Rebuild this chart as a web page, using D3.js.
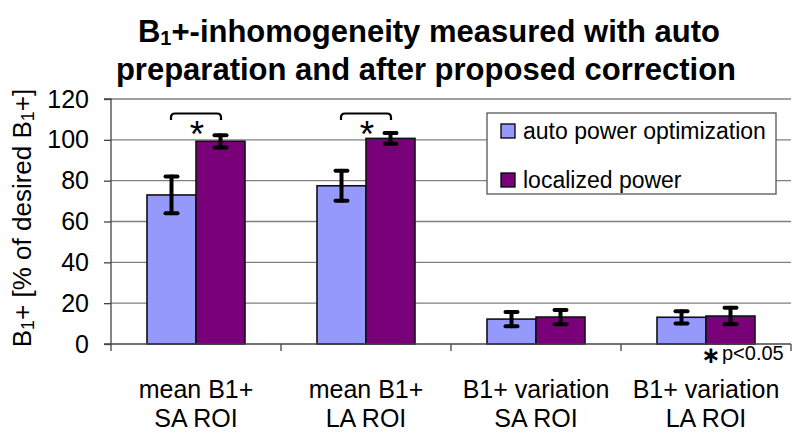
<!DOCTYPE html>
<html><head><meta charset="utf-8">
<script src="https://cdn.jsdelivr.net/npm/d3@7/dist/d3.min.js"></script>
<style>body{margin:0;background:#fff;}svg{display:block;font-family:"Liberation Sans",Arial,sans-serif;}</style>
</head><body>
<svg id="c" width="800" height="434"></svg>
<script>
const categories = [["mean B1+","SA ROI"],["mean B1+","LA ROI"],["B1+ variation","SA ROI"],["B1+ variation","LA ROI"]];
const seriesNames = ["auto power optimization","localized power"];
const autoVals = [73, 77.5, 12.2, 13.1];
const autoErr = [9, 7.3, 3.5, 3];
const locVals = [99.3, 100.7, 13.2, 13.7];
const locErr = [3, 2.6, 3.5, 4];
const yTicks = [0,20,40,60,80,100,120];
const sigCats = [0,1];
const colors = ["#9499fb","#7a0079"];

const svg = d3.select("#c");
const L=111, R=791, T=99, B=344;
const x0 = d3.scaleBand().domain(d3.range(categories.length)).range([L,R]);
const x1 = d3.scaleBand().domain([0,1]).range([0,98]);
const y = d3.scaleLinear().domain([0,120]).range([B,T]);

// gridlines
svg.append("g").selectAll("line").data(yTicks.slice(1)).join("line")
  .attr("x1",L).attr("x2",R).attr("y1",d=>y(d)).attr("y2",d=>y(d))
  .attr("stroke","#808080").attr("stroke-width",1.3);

// y axis
const ya = svg.append("g").attr("transform",`translate(${L},0)`)
  .call(d3.axisLeft(y).tickValues(yTicks).tickSize(7).tickPadding(15));
ya.select(".domain").attr("stroke","#444").attr("stroke-width",1.3).attr("d",`M-7,${T}H0V${B}H-7`);
ya.selectAll(".tick line").attr("stroke","#444").attr("stroke-width",1.3);
ya.selectAll("text").attr("font-size",25).attr("fill","#000").attr("font-family","Liberation Sans, Arial, sans-serif");

// bars
const series = [autoVals, locVals];
const errs = [autoErr, locErr];
series.forEach((vals,s)=>{
  const g = svg.append("g");
  g.selectAll("rect").data(vals).join("rect")
    .attr("x",(d,i)=>x0(i)+(x0.bandwidth()-98)/2+x1(s))
    .attr("width",x1.bandwidth())
    .attr("y",d=>y(d)).attr("height",d=>B-y(d))
    .attr("fill",colors[s]).attr("stroke","#111").attr("stroke-width",1.6);
  const e = svg.append("g").attr("stroke","#000").attr("stroke-width",4).attr("stroke-linecap","round");
  vals.forEach((v,i)=>{
    const cx = x0(i)+(x0.bandwidth()-98)/2+x1(s)+x1.bandwidth()/2;
    const top=y(v+errs[s][i]), bot=y(v-errs[s][i]);
    e.append("line").attr("x1",cx).attr("x2",cx).attr("y1",top).attr("y2",bot);
    e.append("line").attr("x1",cx-6).attr("x2",cx+6).attr("y1",top).attr("y2",top);
    e.append("line").attr("x1",cx-6).attr("x2",cx+6).attr("y1",bot).attr("y2",bot);
  });
});

// x axis
const xa = svg.append("g");
xa.append("line").attr("x1",L).attr("x2",R).attr("y1",B).attr("y2",B).attr("stroke","#444").attr("stroke-width",1.3);
xa.selectAll(".tk").data(d3.range(categories.length+1)).join("line").attr("class","tk")
  .attr("x1",i=>L+i*x0.step()).attr("x2",i=>L+i*x0.step()).attr("y1",B).attr("y2",B+7)
  .attr("stroke","#444").attr("stroke-width",1.3);
categories.forEach((c,i)=>{
  const t = xa.append("text").attr("text-anchor","middle").attr("font-size",25).attr("fill","#000");
  t.append("tspan").attr("x",x0(i)+x0.bandwidth()/2).attr("y",398).text(c[0]);
  t.append("tspan").attr("x",x0(i)+x0.bandwidth()/2).attr("y",427).text(c[1]);
});

// significance brackets
sigCats.forEach(i=>{
  const cx = x0(i)+x0.bandwidth()/2;
  const a=cx-25, b=cx+25, t=113.5, bt=120, r=4;
  svg.append("path").attr("d",`M${a},${bt}V${t+r}Q${a},${t} ${a+r},${t}H${b-r}Q${b},${t} ${b},${t+r}V${bt}`)
    .attr("fill","none").attr("stroke","#000").attr("stroke-width",2.2);
  svg.append("text").attr("x",cx+1).attr("y",147).attr("text-anchor","middle")
    .attr("font-size",37).text("*");
});

// p<0.05 note
svg.append("text").attr("x",711).attr("y",363).attr("text-anchor","middle")
  .attr("font-family","DejaVu Sans").attr("font-size",23).attr("font-weight","bold").text("\u2217");
svg.append("text").attr("x",722).attr("y",360).attr("font-size",20).text("p<0.05");

// legend
const lg = svg.append("g");
lg.append("rect").attr("x",487).attr("y",113).attr("width",289).attr("height",81)
  .attr("fill","#fff").attr("stroke","#555").attr("stroke-width",1.3);
seriesNames.forEach((n,i)=>{
  const yy = 124 + i*49;
  lg.append("rect").attr("x",501).attr("y",yy).attr("width",14).attr("height",14)
    .attr("fill",colors[i]).attr("stroke","#000").attr("stroke-width",1.3);
  lg.append("text").attr("x",523).attr("y",yy+15).attr("font-size",23).text(n);
});

// title
const tt = svg.append("text").attr("text-anchor","middle").attr("font-weight","bold").attr("font-size",31);
const t1 = tt.append("tspan").attr("x",429).attr("y",42);
t1.append("tspan").text("B");
t1.append("tspan").attr("font-size",20).attr("dy",3).text("1");
t1.append("tspan").attr("dy",-3).text("+-inhomogeneity measured with auto");
tt.append("tspan").attr("x",426).attr("y",80).text("preparation and after proposed correction");

// y label
const yl = svg.append("text").attr("transform","translate(31,218) rotate(-90)").attr("text-anchor","middle").attr("font-size",26);
yl.append("tspan").text("B");
yl.append("tspan").attr("font-size",18).attr("dy",3).text("1");
yl.append("tspan").attr("dy",-3).text("+ [% of desired B");
yl.append("tspan").attr("font-size",18).attr("dy",3).text("1");
yl.append("tspan").attr("dy",-3).text("+]");
</script>
</body></html>
